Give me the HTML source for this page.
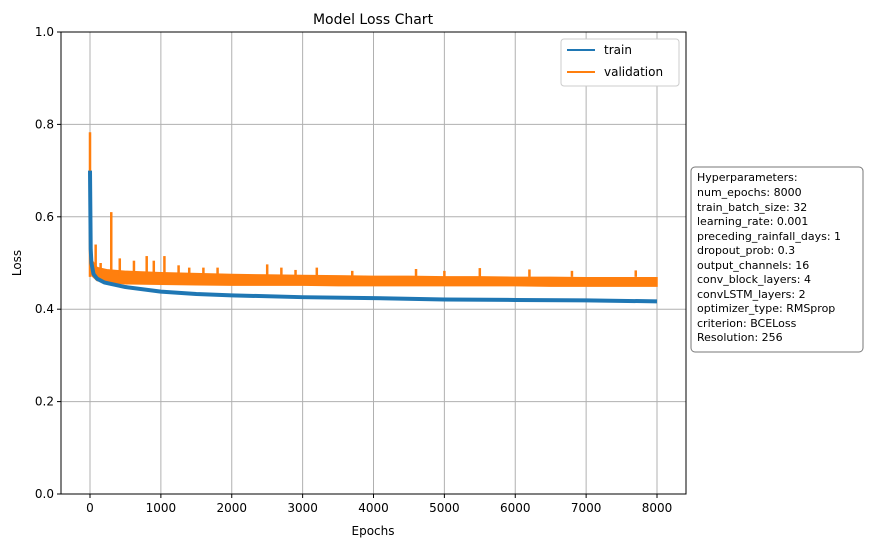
<!DOCTYPE html>
<html><head><meta charset="utf-8"><style>
body{margin:0;background:#fff;font-family:"Liberation Sans","DejaVu Sans",sans-serif}
</style></head><body>
<svg width="870" height="547" viewBox="0 0 870 547" font-family="DejaVu Sans, Liberation Sans, sans-serif">
<g id="grid"></g>
<g id="series"></g>
<rect x="61" y="32" width="625" height="462" fill="none" stroke="#000" stroke-width="1"/>
<g id="ticks"></g>
<text x="373" y="24" text-anchor="middle" font-size="14">Model Loss Chart</text>
<text x="373" y="535" text-anchor="middle" font-size="12">Epochs</text>
<text transform="translate(21,263) rotate(-90)" text-anchor="middle" font-size="12">Loss</text>
<g>
<rect x="561" y="39" width="118" height="47" rx="3" fill="#fff" stroke="#ccc"/>
<line x1="567" y1="50" x2="595" y2="50" stroke="#1f77b4" stroke-width="2"/>
<text x="604" y="54" font-size="12">train</text>
<line x1="567" y1="72" x2="595" y2="72" stroke="#ff7f0e" stroke-width="2"/>
<text x="604" y="76" font-size="12">validation</text>
</g>
<g>
<rect x="691" y="167" width="172" height="185" rx="4" fill="#fff" stroke="#777"/>
<text font-size="11">
<tspan x="697" y="181">Hyperparameters:</tspan>
<tspan x="697" y="196">num_epochs: 8000</tspan>
<tspan x="697" y="211">train_batch_size: 32</tspan>
<tspan x="697" y="225">learning_rate: 0.001</tspan>
<tspan x="697" y="240">preceding_rainfall_days: 1</tspan>
<tspan x="697" y="254">dropout_prob: 0.3</tspan>
<tspan x="697" y="269">output_channels: 16</tspan>
<tspan x="697" y="283">conv_block_layers: 4</tspan>
<tspan x="697" y="298">convLSTM_layers: 2</tspan>
<tspan x="697" y="312">optimizer_type: RMSprop</tspan>
<tspan x="697" y="327">criterion: BCELoss</tspan>
<tspan x="697" y="341">Resolution: 256</tspan>
</text>
</g>
</svg>
<script>
const xTicks=[0,1000,2000,3000,4000,5000,6000,7000,8000];
const yTicks=[0,0.2,0.4,0.6,0.8,1.0];
const yTickLabels=["0.0","0.2","0.4","0.6","0.8","1.0"];
const trainEpochs=[0,10,20,50,100,200,500,1000,1500,2000,3000,4000,5000,6000,7000,8000];
const trainLoss=[0.70,0.53,0.50,0.476,0.466,0.458,0.448,0.438,0.433,0.430,0.426,0.424,0.421,0.420,0.419,0.417];
const valEpochs=[0,10,30,100,250,500,1000,1500,2000,2500,3000,3500,4000,4500,5000,5500,6000,6500,7000,7500,8000];
const valLow=[0.70,0.49,0.472,0.462,0.458,0.455,0.454,0.453,0.452,0.452,0.452,0.451,0.451,0.451,0.451,0.451,0.451,0.450,0.450,0.450,0.450];
const valHigh=[0.78,0.53,0.505,0.49,0.485,0.482,0.479,0.477,0.475,0.474,0.473,0.472,0.471,0.471,0.470,0.470,0.469,0.469,0.468,0.468,0.468];
const spikeEpochs=[0,80,150,300,420,620,800,900,1050,1250,1400,1600,1800,2500,2700,2900,3200,3700,4600,5000,5500,6200,6800,7700];
const spikeValues=[0.783,0.54,0.50,0.61,0.51,0.505,0.515,0.505,0.515,0.495,0.49,0.49,0.49,0.497,0.49,0.485,0.49,0.483,0.487,0.483,0.489,0.486,0.483,0.484];
const NS='http://www.w3.org/2000/svg';
const X=e=>90+e*(657-90)/8000;
const Y=v=>494-v*462;
function mk(tag,attrs,parent){const el=document.createElementNS(NS,tag);for(const k in attrs)el.setAttribute(k,attrs[k]);parent.appendChild(el);return el;}
const grid=document.getElementById('grid'),ticks=document.getElementById('ticks'),series=document.getElementById('series');
xTicks.forEach(t=>{
 const g=mk('line',{x1:X(t),x2:X(t),y1:32,y2:494,stroke:'#b0b0b0','stroke-width':1},grid);
 
 
 const tk=mk('line',{x1:X(t),x2:X(t),y1:494,y2:498,stroke:'#000'},ticks);
 
 
 const tx=mk('text',{x:X(t),y:512,'text-anchor':'middle','font-size':12},ticks);
 tx.textContent=t;
 
 
});
yTicks.forEach((t,i)=>{
 const g=mk('line',{x1:61,x2:686,y1:Y(t),y2:Y(t),stroke:'#b0b0b0','stroke-width':1},grid);
 
 
 const tk=mk('line',{x1:57,x2:61,y1:Y(t),y2:Y(t),stroke:'#000'},ticks);
 
 
 const tx=mk('text',{x:54,y:Y(t)+4,'text-anchor':'end','font-size':12},ticks);
 tx.textContent=yTickLabels[i];
 
 
});
let d='M'+valEpochs.map((e,i)=>X(e)+','+Y(valHigh[i])).join('L');
for(let i=valEpochs.length-1;i>=0;i--)d+='L'+X(valEpochs[i])+','+Y(valLow[i]);
d+='Z';
const band=mk('path',{d:d,fill:'#ff7f0e',stroke:'#ff7f0e','stroke-width':1.5},series);


spikeEpochs.forEach((e,i)=>{
 const s=mk('line',{x1:X(e),x2:X(e),y1:Y(spikeValues[i]),y2:Y(0.47),stroke:'#ff7f0e','stroke-width':2.5},series);
 
 
});
const tr=mk('polyline',{points:trainEpochs.map((e,i)=>X(e)+','+Y(trainLoss[i])).join(' '),fill:'none',stroke:'#1f77b4','stroke-width':4,'stroke-linejoin':'round'},series);


</script>
</body></html>
